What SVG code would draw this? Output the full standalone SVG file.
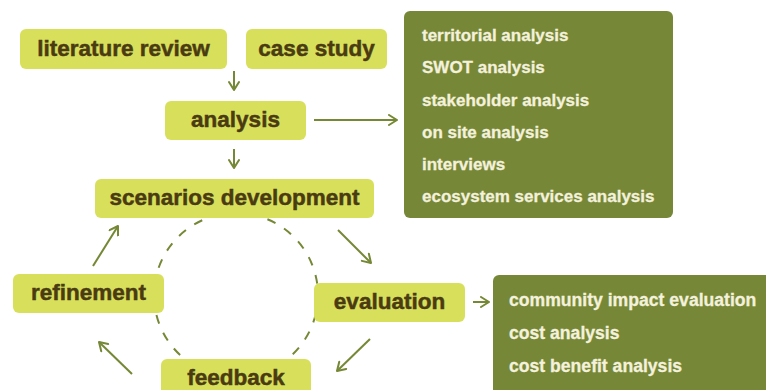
<svg xmlns="http://www.w3.org/2000/svg" width="766" height="390" viewBox="0 0 766 390">
  <defs>
    <marker id="chev" viewBox="0 0 12 12" refX="10" refY="6" markerWidth="12" markerHeight="12" markerUnits="userSpaceOnUse" orient="auto">
      <path d="M2,1 L10,6 L2,11" fill="none" stroke="#758835" stroke-width="2" stroke-linecap="round" stroke-linejoin="round"/>
    </marker>
    <style>
      .node rect { fill: #d8e05b; }
      .node text { font-family: "Liberation Sans", Arial, sans-serif; font-weight: bold; font-size: 22.5px; fill: #4a3b12; stroke: #4a3b12; stroke-width: 0.5px; text-anchor: middle; }
      .panel rect { fill: #768837; }
      .panel text { font-family: "Liberation Sans", Arial, sans-serif; font-weight: bold; font-size: 17px; fill: #f4f1dc; stroke: #f4f1dc; stroke-width: 0.3px; }
      #evaluation-methods text { font-size: 17.6px; }
      .conn line { stroke: #758835; stroke-width: 2; marker-end: url(#chev); }
      .cycle { fill: none; stroke: #758835; stroke-width: 2; stroke-dasharray: 9 10; }
    </style>
  </defs>

  <rect width="766" height="390" fill="#ffffff"/>

  <!-- dashed cycle ring behind the loop nodes -->
  <circle class="cycle" cx="236" cy="295" r="82"/>

  <g id="connectors" class="conn">
    <line x1="234" y1="71" x2="234" y2="90"/>
    <line x1="234" y1="149" x2="234" y2="168"/>
    <line x1="314" y1="120" x2="397" y2="120"/>
    <line x1="338" y1="230" x2="371" y2="263"/>
    <line x1="370" y1="339" x2="337" y2="371"/>
    <line x1="132" y1="374" x2="99" y2="342"/>
    <line x1="93" y1="266" x2="118" y2="226"/>
    <line x1="473" y1="302" x2="489" y2="302"/>
  </g>

  <g id="literature-review" class="node">
    <rect x="20" y="29" width="207" height="40" rx="6"/>
    <text x="123.5" y="56">literature review</text>
  </g>
  <g id="case-study" class="node">
    <rect x="246" y="29" width="141" height="40" rx="6"/>
    <text x="316.5" y="56">case study</text>
  </g>
  <g id="analysis" class="node">
    <rect x="165" y="101" width="141" height="39" rx="6"/>
    <text x="235.5" y="127">analysis</text>
  </g>
  <g id="scenarios-development" class="node">
    <rect x="95" y="179" width="279" height="39" rx="6"/>
    <text x="234.5" y="205">scenarios development</text>
  </g>
  <g id="refinement" class="node">
    <rect x="13" y="274" width="151" height="39" rx="6"/>
    <text x="88.5" y="300">refinement</text>
  </g>
  <g id="evaluation" class="node">
    <rect x="314" y="283" width="151" height="39" rx="6"/>
    <text x="389.5" y="309">evaluation</text>
  </g>
  <g id="feedback" class="node">
    <rect x="161" y="359" width="150" height="40" rx="6"/>
    <text x="236" y="385">feedback</text>
  </g>

  <g id="analysis-methods" class="panel">
    <rect x="404" y="11" width="269" height="207" rx="6"/>
    <text x="422" y="41">territorial analysis</text>
    <text x="422" y="73.3">SWOT analysis</text>
    <text x="422" y="105.6">stakeholder analysis</text>
    <text x="422" y="138">on site analysis</text>
    <text x="422" y="170">interviews</text>
    <text x="422" y="202">ecosystem services analysis</text>
  </g>

  <g id="evaluation-methods" class="panel">
    <rect x="493" y="275" width="285" height="125" rx="6"/>
    <text x="509" y="306">community impact evaluation</text>
    <text x="509" y="339">cost analysis</text>
    <text x="509" y="372">cost benefit analysis</text>
  </g>
</svg>
